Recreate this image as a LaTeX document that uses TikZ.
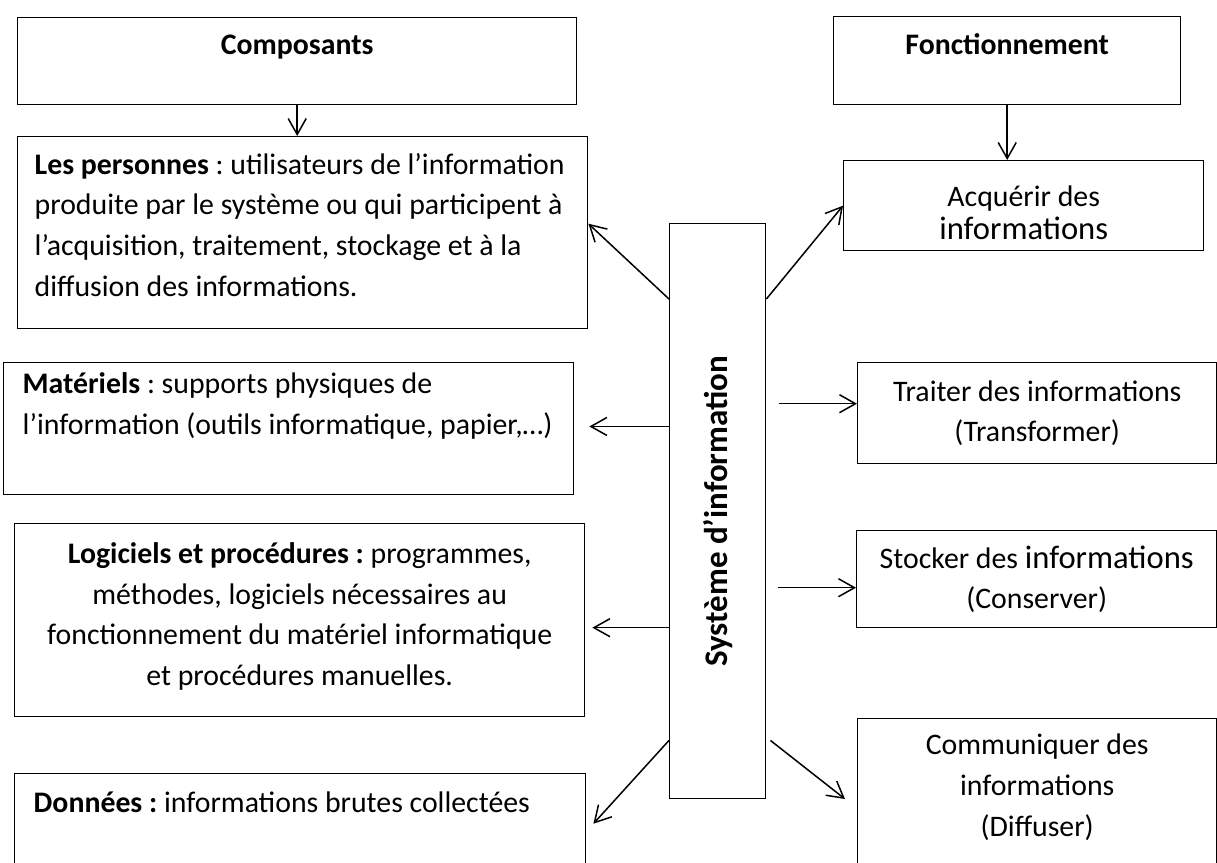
\documentclass[tikz,border=0pt]{standalone}
\usepackage{fontspec}
\setmainfont{Carlito}
\usepackage{graphicx}
\usepackage{tikz}
\usetikzlibrary{arrows.meta,positioning,calc}
\frenchspacing
\newcommand{\bigword}[1]{{\fontsize{16.3}{20.5}\selectfont #1}}

\begin{document}
\begin{tikzpicture}[x=0.5pt,y=-0.5pt,
		box/.style={draw,line width=0.7pt,anchor=north west,inner xsep=10pt,inner ysep=5pt,font=\fontsize{14.9}{20.3}\selectfont},
		arr/.style={-{Straight Barb[length=8pt,width=9pt]},line width=0.75pt}]
		\clip (0,0) rectangle (1217,863);
		\node[box,minimum width=279.5pt,text height=13.5pt,text depth=20pt] (comp) at (17,17) {\bfseries Composants};
		\node[box,text width=268pt,align=flush left,inner xsep=8.5pt,minimum height=96pt] (pers) at (17,136) {\textbf{Les personnes} : utilisateurs de l’information\\produite par le système ou qui participent à\\l’acquisition, traitement, stockage et à la\\diffusion des informations.\rule[-8pt]{0pt}{8pt}};
		\node[box,text width=266pt,align=flush left,inner xsep=9.5pt] (mat) at (3,362) {\textbf{Matériels} : supports physiques de\\l’information (outils informatique, papier,…)\rule[-25pt]{0pt}{25pt}};
		\node[box,text width=266pt,align=flush center,inner xsep=9.5pt,minimum height=96.5pt] (logi) at (14,523) {\textbf{Logiciels et procédures :} programmes,\\méthodes, logiciels nécessaires au\\fonctionnement du matériel informatique\\et procédures manuelles.\rule[-6pt]{0pt}{6pt}};
		\node[box,text width=266.5pt,align=flush left,inner xsep=9.5pt,text height=14.5pt,text depth=25.5pt] (donn) at (14,773) {\textbf{Données :} informations brutes collectées};
		\node[box,minimum width=48pt,minimum height=287.5pt,inner sep=0pt] (sys) at (669,223) {\rotatebox{90}{\fontsize{16.5}{20}\selectfont\bfseries Système d’information}};
		\node[box,minimum width=173.5pt,text height=14pt,text depth=20pt] (fonc) at (833,16) {\bfseries Fonctionnement};
		\node[box,minimum width=180pt,minimum height=45pt,align=center] (acq) at (843,160) {\rule{0pt}{17.5pt}Acquérir des\\[-4pt]\bigword{informations}};
		\node[box,minimum width=179.5pt,minimum height=50.5pt,align=center] (trait) at (857,362) {Traiter des informations\\(Transformer)};
		\node[box,minimum width=180pt,minimum height=48.5pt,align=center] (stock) at (856,530) {Stocker des \bigword{informations}\\(Conserver)};
		\node[box,minimum width=179.5pt,inner ysep=7.75pt,text depth=15pt,align=center] (comm) at (857,718) {Communiquer des\\informations\\(Diffuser)};
		\draw[arr] (comp.south) -- (comp.south |- pers.north);
		\draw[arr] (fonc.south) -- (fonc.south |- acq.north);
		\draw[arr] ($(sys.north west)+(0,76)$) -- ($(pers.east)+(0,-9)$);
		\draw[arr] ($(sys.north east)+(0,76)$) -- (acq.west);
		\draw[arr] ($(sys.west |- mat.east)+(0,-2)$) -- ($(mat.east)+(15,-2)$);
		\draw[arr] ($(sys.west |- logi.east)+(0,7.5)$) -- ($(logi.east)+(7,7.5)$);
		\draw[arr] ($(sys.south west)+(0,-59)$) -- ($(donn.east)+(7,0)$);
		\draw[arr] ($(trait.west)+(-78,-9.5)$) -- ($(trait.west)+(0,-9.5)$);
		\draw[arr] ($(stock.west)+(-78,8.5)$) -- ($(stock.west)+(0,8.5)$);
		\draw[arr] ($(sys.south east)+(4,-59)$) -- ($(comm.north west)+(-12,81)$);
	\end{tikzpicture}
\end{document}
